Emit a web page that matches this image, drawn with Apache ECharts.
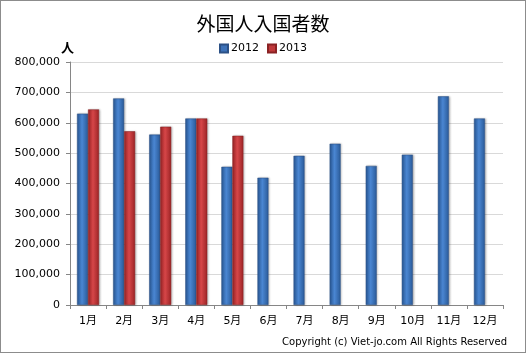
<!DOCTYPE html>
<html>
<head>
<meta charset="utf-8">
<script src="https://cdn.jsdelivr.net/npm/echarts@6/dist/echarts.min.js"></script>
<style>
  html, body { margin: 0; padding: 0; background: #fff; }
  #chart { width: 526px; height: 353px; box-sizing: border-box; border: 1px solid #8c8c8c; }
</style>
</head>
<body>
<div id="chart"></div>
<script>
const months = ["1月", "2月", "3月", "4月", "5月", "6月", "7月", "8月", "9月", "10月", "11月", "12月"];
const values2012 = [630000, 680000, 561000, 614000, 455000, 419000, 491000, 531000, 458000, 495000, 687000, 614000];
const values2013 = [644000, 572000, 587000, 614000, 557000, null, null, null, null, null, null, null];
const yTicks = [0, 100000, 200000, 300000, 400000, 500000, 600000, 700000, 800000];

const font = "Tahoma, 'DejaVu Sans', 'Noto Sans CJK JP', sans-serif";

function barFill(edge, mid) {
  return new echarts.graphic.LinearGradient(0, 0, 1, 0, [
    { offset: 0, color: edge },
    { offset: 0.45, color: mid },
    { offset: 1, color: edge },
  ]);
}

const chart = echarts.init(document.getElementById("chart"));

chart.setOption({
  animation: false,
  backgroundColor: "#fff",
  title: {
    text: "外国人入国者数",
    left: "center",
    top: 8,
    textStyle: { fontSize: 19, fontWeight: "normal", color: "#000", fontFamily: "'Noto Sans CJK JP', sans-serif" },
  },
  legend: {
    top: 37,
    left: "center",
    itemWidth: 8,
    itemHeight: 8,
    itemGap: 8,
    icon: "rect",
    textStyle: { fontSize: 11, color: "#000", fontFamily: font, padding: [0, 0, 0, -2] },
    data: [
      { name: "2012", itemStyle: { color: "#3d72b8" } },
      { name: "2013", itemStyle: { color: "#c0393b" } },
    ],
  },
  grid: { left: 69, right: 22, top: 61, bottom: 47 },
  xAxis: {
    type: "category",
    data: months,
    axisLine: { lineStyle: { color: "#868686" } },
    axisTick: { show: true, length: 4, lineStyle: { color: "#868686" } },
    axisLabel: { color: "#000", fontSize: 11, margin: 11, fontFamily: font },
  },
  yAxis: {
    type: "value",
    min: yTicks[0],
    max: yTicks[yTicks.length - 1],
    interval: 100000,
    name: "人",
    nameLocation: "end",
    nameGap: 8,
    nameTextStyle: { color: "#000", fontSize: 13, fontWeight: "bold", align: "right", padding: [0, -4, 0, 0], fontFamily: "'Noto Sans CJK JP', sans-serif" },
    axisLine: { show: true, lineStyle: { color: "#868686" } },
    axisTick: { show: true, length: 4, lineStyle: { color: "#868686" } },
    splitLine: { lineStyle: { color: "#d9d9d9" } },
    axisLabel: {
      color: "#000",
      fontSize: 11,
      margin: 10,
      fontFamily: font,
      formatter: (v) => v.toLocaleString("en-US"),
    },
  },
  series: [
    {
      name: "2012",
      type: "bar",
      data: values2012,
      barWidth: 11,
      barGap: "0%",
      itemStyle: {
        color: barFill("#2a5a98", "#4a86d2"),
        borderColor: "#2c5186",
        borderWidth: 0.5,
        shadowColor: "rgba(0,0,0,0.25)",
        shadowBlur: 2,
        shadowOffsetX: 1,
      },
    },
    {
      name: "2013",
      type: "bar",
      data: values2013,
      barWidth: 11,
      barGap: "0%",
      itemStyle: {
        color: barFill("#9c2426", "#d64648"),
        borderColor: "#8a2224",
        borderWidth: 0.5,
        shadowColor: "rgba(0,0,0,0.25)",
        shadowBlur: 2,
        shadowOffsetX: 1,
      },
    },
  ],
  graphic: [
    {
      type: "text",
      right: 18,
      bottom: 5,
      style: {
        text: "Copyright (c) Viet-jo.com All Rights Reserved",
        fontSize: 10,
        fill: "#000",
        fontFamily: font,
      },
    },
  ],
});
</script>
</body>
</html>
